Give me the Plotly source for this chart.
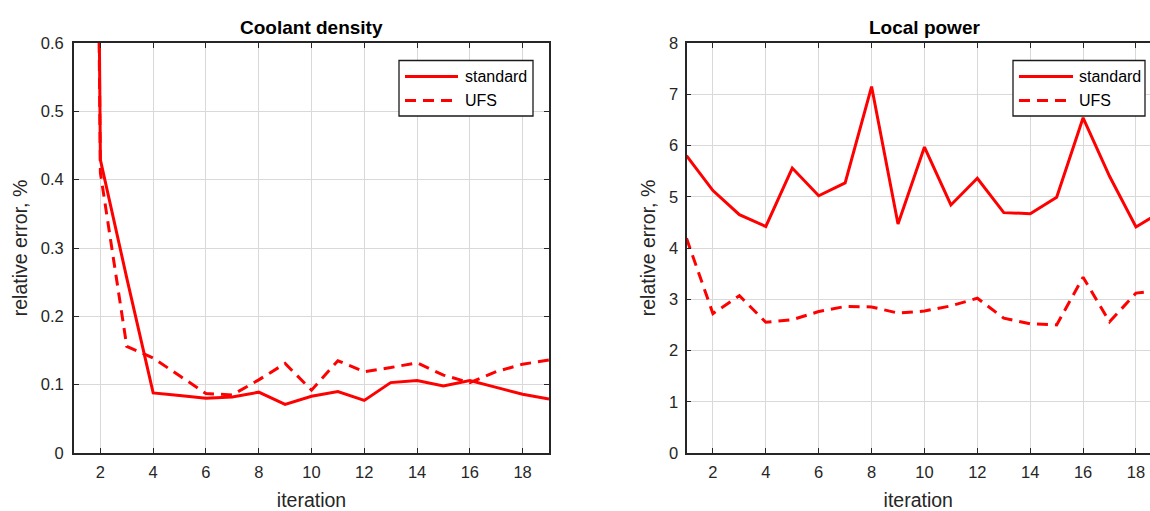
import plotly.graph_objects as go

# Iteration numbers
iterations = list(range(1, 20))

# Coolant density relative error, %
density_standard = [5.0, 0.429, 0.256, 0.088, 0.084, 0.080, 0.082, 0.089, 0.071, 0.083,
                    0.090, 0.077, 0.103, 0.106, 0.098, 0.106, 0.096, 0.086, 0.079]
density_ufs = [4.5, 0.410, 0.156, 0.139, 0.113, 0.087, 0.085, 0.107, 0.131, 0.092,
               0.135, 0.119, 0.125, 0.132, 0.114, 0.103, 0.119, 0.130, 0.136]

# Local power relative error, %
power_standard = [5.80, 5.12, 4.65, 4.42, 5.56, 5.02, 5.27, 7.15, 4.47, 5.97,
                  4.84, 5.36, 4.69, 4.67, 4.99, 6.54, 5.40, 4.41, 4.72]
power_ufs = [4.19, 2.72, 3.07, 2.55, 2.60, 2.76, 2.86, 2.85, 2.73, 2.77,
             2.87, 3.02, 2.63, 2.52, 2.50, 3.43, 2.56, 3.12, 3.18]

series_names = ["standard", "UFS"]
x_ticks = [2, 4, 6, 8, 10, 12, 14, 16, 18]
density_ticks = [0, 0.1, 0.2, 0.3, 0.4, 0.5, 0.6]
density_tick_text = ["0", "0.1", "0.2", "0.3", "0.4", "0.5", "0.6"]
power_ticks = [0, 1, 2, 3, 4, 5, 6, 7, 8]

W, H = 1150, 511
TOP, BOTTOM = 43, 58
PLOT_H = H - TOP - BOTTOM
RED = "#ff0000"
AXIS = "#262626"
GRID = "#d9d9d9"
FONT = "Liberation Sans, Arial, sans-serif"
DASH = "11px,7px"


def px_x(x):
    return x / W


def px_y(y):
    return (H - BOTTOM - y) / PLOT_H


fig = go.Figure()

panels = [("x", "y", density_standard, density_ufs), ("x2", "y2", power_standard, power_ufs)]
for xa, ya, std, ufs in panels:
    fig.add_trace(go.Scatter(x=iterations, y=std, mode="lines", name=series_names[0],
                             line=dict(color=RED, width=3), xaxis=xa, yaxis=ya, showlegend=False))
    fig.add_trace(go.Scatter(x=iterations, y=ufs, mode="lines", name=series_names[1],
                             line=dict(color=RED, width=3, dash=DASH),
                             xaxis=xa, yaxis=ya, showlegend=False))

common_axis = dict(
    showline=True, linecolor=AXIS, linewidth=1.8,
    ticks="inside", ticklen=5, tickwidth=1.3, tickcolor=AXIS,
    showgrid=True, gridcolor=GRID, gridwidth=1.4,
    zeroline=False,
    tickfont=dict(family=FONT, size=16.5, color=AXIS),
)
title_font = dict(family=FONT, size=19.5, color=AXIS)

left_x0, left_x1 = 74 / W, 549 / W
right_x0 = 686.5 / W

# Boxed legends drawn in paper coordinates (box left, box right, sample start, sample end, text x)
legend_boxes = [(399, 533, 405, 458, 463), (1013, 1145, 1019, 1073, 1077)]
legend_rows = [76.5, 100.5]
shapes, annotations = [], []
for bx0, bx1, lx0, lx1, tx in legend_boxes:
    shapes.append(dict(type="rect", xref="paper", yref="paper",
                       x0=px_x(bx0), x1=px_x(bx1), y0=px_y(116), y1=px_y(60.5),
                       fillcolor="white", line=dict(color="#1a1a1a", width=1.3), layer="above"))
    for row_y, name, dash in zip(legend_rows, series_names, ["solid", DASH]):
        shapes.append(dict(type="line", xref="paper", yref="paper",
                           x0=px_x(lx0), x1=px_x(lx1), y0=px_y(row_y), y1=px_y(row_y),
                           line=dict(color=RED, width=3, dash=dash), layer="above"))
        annotations.append(dict(text=name, x=px_x(tx), y=px_y(row_y), xref="paper", yref="paper",
                                xanchor="left", yanchor="middle", showarrow=False,
                                font=dict(family=FONT, size=16, color="#000000")))

annotations += [
    dict(text="<b>Coolant density</b>", x=(74 + 549) / 2 / W, y=1.0, xref="paper", yref="paper",
         xanchor="center", yanchor="bottom", yshift=3, showarrow=False,
         font=dict(family=FONT, size=19, color="#000000")),
    dict(text="<b>Local power</b>", x=924 / W, y=1.0, xref="paper", yref="paper",
         xanchor="center", yanchor="bottom", yshift=3, showarrow=False,
         font=dict(family=FONT, size=19, color="#000000")),
]

fig.update_layout(
    width=W, height=H,
    margin=dict(l=0, r=0, t=TOP, b=BOTTOM),
    paper_bgcolor="white", plot_bgcolor="white",
    font=dict(family=FONT, size=16, color=AXIS),
    showlegend=False,
    xaxis=dict(domain=[left_x0, left_x1], range=[1, 19], tickvals=x_ticks,
               mirror="ticks", anchor="y", ticklabelstandoff=3,
               title=dict(text="iteration", font=title_font, standoff=14),
               **common_axis),
    yaxis=dict(domain=[0, 1], range=[0, 0.6], tickvals=density_ticks, ticktext=density_tick_text,
               mirror="ticks", anchor="x", ticklabelstandoff=5,
               title=dict(text="relative error, %", font=title_font, standoff=8),
               **common_axis),
    xaxis2=dict(domain=[right_x0, 1], range=[1, 18.53], tickvals=x_ticks,
                mirror="ticks", anchor="y2", ticklabelstandoff=3,
                title=dict(text="iteration", font=title_font, standoff=14),
                **common_axis),
    yaxis2=dict(domain=[0, 1], range=[0, 8], tickvals=power_ticks,
                mirror=False, anchor="x2", ticklabelstandoff=3,
                title=dict(text="relative error, %", font=title_font, standoff=8),
                **common_axis),
    shapes=shapes,
    annotations=annotations,
)

fig.write_html("out.html")
